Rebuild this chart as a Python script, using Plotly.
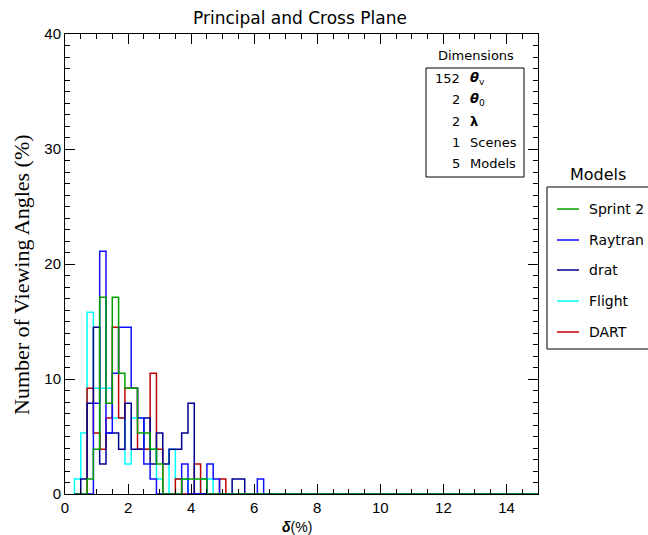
import plotly.graph_objects as go

# ---------------- data ----------------
# histogram bins: first lower edge, bin width; values are % of viewing angles per bin
bin_start = 0.3
bin_width = 0.2
x_max = 15.0

# bins centred at 0.4, 0.6, ..., 6.2
flight = [1.3, 5.3, 15.8, 9.2, 9.2, 9.2, 6.6, 6.6, 2.6, 6.6, 6.6, 3.9, 3.9, 1.3, 0.0, 3.9, 1.3, 1.3,
          0.0, 0.0, 1.3, 1.3, 0.0, 0.0, 0.0, 0.0, 0.0, 0.0, 0.0, 0.0]
dart = [0.0, 0.0, 9.2, 5.3, 3.9, 6.6, 14.5, 6.6, 9.2, 9.2, 3.9, 3.9, 10.5, 3.9, 0.0, 0.0, 1.3, 0.0,
        0.0, 2.6, 0.0, 0.0, 0.0, 1.3, 0.0, 0.0, 0.0, 0.0, 0.0, 0.0]
drat = [0.0, 1.3, 7.9, 14.5, 2.6, 5.3, 5.3, 3.9, 7.9, 3.9, 3.9, 6.6, 2.6, 5.3, 2.6, 3.9, 3.9, 5.3,
        7.9, 0.0, 0.0, 0.0, 0.0, 0.0, 0.0, 1.3, 1.3, 0.0, 0.0, 0.0]
raytran = [0.0, 0.0, 0.0, 7.9, 21.1, 5.3, 10.5, 14.5, 14.5, 9.2, 6.6, 2.6, 1.3, 0.0, 0.0, 0.0, 0.0, 2.6,
           0.0, 0.0, 0.0, 2.6, 1.3, 0.0, 0.0, 0.0, 0.0, 0.0, 0.0, 1.3]
sprint2 = [0.0, 0.0, 1.3, 3.9, 17.1, 7.9, 17.1, 10.5, 9.2, 9.2, 5.3, 5.3, 3.9, 2.6, 0.0, 0.0, 0.0, 1.3,
           1.3, 1.3, 1.3, 0.0, 0.0, 0.0, 0.0, 0.0, 0.0, 0.0, 0.0, 0.0]

model_names = ["Sprint 2", "Raytran", "drat", "Flight", "DART"]
model_colors = {"Sprint 2": "#00a000", "Raytran": "#1010ff", "drat": "#000090",
                "Flight": "#00ffff", "DART": "#c00000"}
series = {"Sprint 2": sprint2, "Raytran": raytran, "drat": drat, "Flight": flight, "DART": dart}
draw_order = ["Flight", "DART", "drat", "Raytran", "Sprint 2"]

dim_numbers = ["152", "2", "2", "1", "5"]
dim_labels = ["<b><i>θ</i></b><sub>v</sub>", "<b><i>θ</i></b><sub>0</sub>", "<b>λ</b>", "Scenes", "Models"]

x_ticks = [0, 2, 4, 6, 8, 10, 12, 14]
y_ticks = [0, 10, 20, 30, 40]


def step_xy(vals):
    xs, ys = [bin_start], [0.0]
    for i, v in enumerate(vals):
        lo = bin_start + i * bin_width
        hi = lo + bin_width
        xs += [lo, hi]
        ys += [v, v]
    last = bin_start + len(vals) * bin_width
    xs += [last, x_max]
    ys += [0.0, 0.0]
    return xs, ys


fig = go.Figure()
for name in draw_order:
    xs, ys = step_xy(series[name])
    fig.add_trace(go.Scatter(x=xs, y=ys, mode="lines", name=name,
                             line=dict(color=model_colors[name], width=1.5),
                             showlegend=False, hoverinfo="skip"))

# plot area in pixels
W, H = 648, 535
L, R, T, B = 65, 538, 34, 494


def px(xp):
    return (xp - L) / (R - L)


def py(yp):
    return (B - yp) / (B - T)


FONT = "DejaVu Sans"
TICKFONT = "Liberation Sans"
ann = []
shapes = []


def text(xp, yp, s, size=14, xanchor="center", family=FONT, angle=0):
    ann.append(dict(x=px(xp), y=py(yp), xref="paper", yref="paper", text=s,
                    xanchor=xanchor, yanchor="middle", textangle=angle, showarrow=False,
                    font=dict(family=family, size=size, color="black")))


# title
text(300, 18, "Principal and Cross Plane", size=17)
# y title
text(21, 275, "Number of Viewing Angles (%)", size=22, family="Liberation Serif", angle=-90)
# x title
text(297, 527, "<b><i>δ</i></b>(%)", size=14, family=TICKFONT)

# Dimensions box
text(476, 56, "Dimensions", size=13)
shapes.append(dict(type="rect", xref="paper", yref="paper", x0=px(426), x1=px(524),
                   y0=py(68), y1=py(177), line=dict(color="black", width=1), fillcolor="white"))
dim_y = [78, 100, 121, 142, 163]
for num, lab, yy in zip(dim_numbers, dim_labels, dim_y):
    text(462, yy, num, size=13, xanchor="right")
    text(468, yy, lab, size=13, xanchor="left")

# Models legend (custom)
text(598, 174, "Models", size=16)
shapes.append(dict(type="rect", xref="paper", yref="paper", x0=px(547), x1=px(660),
                   y0=py(187), y1=py(349), line=dict(color="black", width=1)))
leg_y = [209, 240, 270, 301, 332]
for name, yy in zip(model_names, leg_y):
    shapes.append(dict(type="line", xref="paper", yref="paper", x0=px(557), x1=px(579),
                       y0=py(yy), y1=py(yy), line=dict(color=model_colors[name], width=1.5)))
    text(587, yy, name, size=14, xanchor="left")

axis_common = dict(showgrid=False, zeroline=False, showline=True, linecolor="black", linewidth=1,
                   mirror="ticks", ticks="inside", ticklen=10, tickcolor="black", tickwidth=1,
                   tickfont=dict(family=TICKFONT, size=15, color="black"))

fig.update_layout(
    width=W, height=H,
    margin=dict(l=L, r=W - R, t=T, b=H - B),
    paper_bgcolor="white", plot_bgcolor="white",
    showlegend=False,
    annotations=ann, shapes=shapes,
    xaxis=dict(range=[0, x_max], tickvals=x_ticks, ticktext=[str(v) for v in x_ticks],
               minor=dict(dtick=0.5, ticks="inside", ticklen=5, tickcolor="black"),
               **axis_common),
    yaxis=dict(range=[0, 40], tickvals=y_ticks, ticktext=[str(v) for v in y_ticks],
               minor=dict(dtick=1, ticks="inside", ticklen=5, tickcolor="black"),
               **axis_common),
)

fig.write_html("out.html")
